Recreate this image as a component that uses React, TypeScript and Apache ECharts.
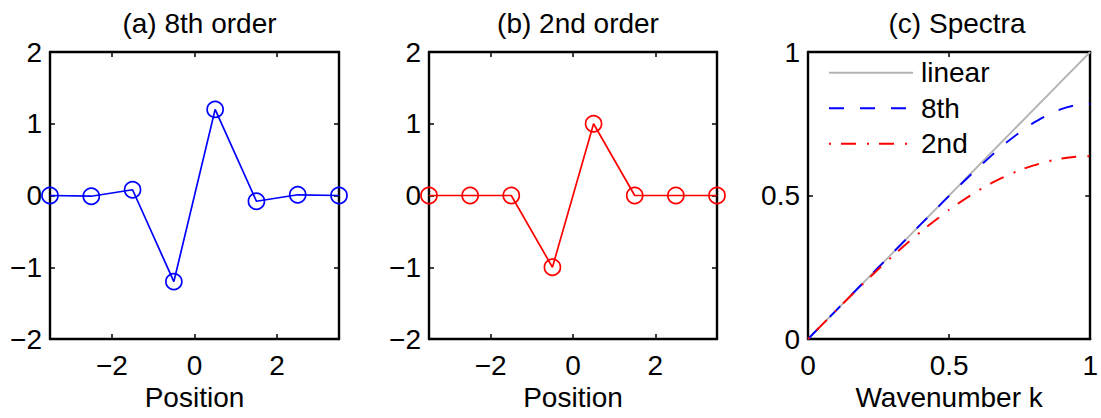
import React, { useEffect, useRef } from "react";
import * as echarts from "echarts";

// Stencil weights at staggered grid positions
const positions = [-3.5, -2.5, -1.5, -0.5, 0.5, 1.5, 2.5, 3.5];
const stencil8th = [0.0, -0.01, 0.08, -1.2, 1.2, -0.08, 0.01, 0.0];
const stencil2nd = [0, 0, 0, -1, 1, 0, 0, 0];

// Modified wavenumber spectra
const wavenumber = [
  0, 0.05, 0.1, 0.15, 0.2, 0.25, 0.3, 0.35, 0.4, 0.45, 0.5, 0.55, 0.6, 0.65, 0.7,
  0.75, 0.8, 0.85, 0.9, 0.95, 1,
];
const spectrumLinear = [
  0, 0.05, 0.1, 0.15, 0.2, 0.25, 0.3, 0.35, 0.4, 0.45, 0.5, 0.55, 0.6, 0.65, 0.7,
  0.75, 0.8, 0.85, 0.9, 0.95, 1,
];
const spectrum8th = [
  0, 0.05, 0.1, 0.15, 0.2, 0.25, 0.3, 0.35, 0.4, 0.449, 0.499, 0.547, 0.594, 0.639,
  0.682, 0.72, 0.754, 0.781, 0.802, 0.815, 0.819,
];
const spectrum2nd = [
  0, 0.05, 0.1, 0.149, 0.197, 0.244, 0.289, 0.333, 0.374, 0.413, 0.45, 0.484, 0.515,
  0.543, 0.567, 0.588, 0.605, 0.619, 0.629, 0.635, 0.637,
];

const positionTicks = [-2, 0, 2];
const panelTitles = ["(a) 8th order", "(b) 2nd order", "(c) Spectra"];

const FONT = "'Liberation Sans', Arial, Helvetica, sans-serif";
const FS = 28;

const fmt = (v: number) => String(v).replace("-", "\u2212");

export default function App() {
  const ref = useRef<HTMLDivElement>(null);

  useEffect(() => {
    if (!ref.current) return;
    const chart = echarts.init(ref.current, null, { renderer: "svg" });

    const grids = [
      { left: 50, top: 52, width: 289, height: 287 },
      { left: 429, top: 52, width: 288, height: 287 },
      { left: 808, top: 52, width: 288, height: 287 },
    ];

    const axisLine = { show: true, onZero: false, lineStyle: { color: "#000", width: 2.4 } };
    const labelStyle = { color: "#000", fontSize: FS, fontFamily: FONT };

    const xAxes: any[] = [];
    const yAxes: any[] = [];

    grids.forEach((_, i) => {
      const isSpectra = i === 2;
      const xRange = isSpectra
        ? { min: 0, max: 1, interval: 0.5 }
        : { min: -3.5, max: 3.5 };
      const yRange = isSpectra
        ? { min: 0, max: 1, interval: 0.5 }
        : { min: -2, max: 2, interval: 1 };
      const xTick = isSpectra
        ? { show: true, inside: true, length: 5, lineStyle: { color: "#000", width: 1.5 } }
        : {
            show: true,
            inside: true,
            length: 5,
            customValues: positionTicks,
            lineStyle: { color: "#000", width: 1.5 },
          };
      const yTick = { show: true, inside: true, length: 5, lineStyle: { color: "#000", width: 1.5 } };

      xAxes.push({
        type: "value",
        gridIndex: i,
        position: "bottom",
        ...xRange,
        name: isSpectra ? "Wavenumber k" : "Position",
        nameLocation: "middle",
        nameGap: 44,
        nameTextStyle: labelStyle,
        axisLine,
        axisTick: xTick,
        splitLine: { show: false },
        axisLabel: isSpectra
          ? { ...labelStyle, margin: 12, formatter: fmt }
          : { ...labelStyle, margin: 12, customValues: positionTicks, formatter: fmt },
      });
      xAxes.push({
        type: "value",
        gridIndex: i,
        position: "top",
        ...xRange,
        axisLine,
        axisTick: xTick,
        splitLine: { show: false },
        axisLabel: { show: false },
      });
      yAxes.push({
        type: "value",
        gridIndex: i,
        position: "left",
        ...yRange,
        axisLine,
        axisTick: yTick,
        splitLine: { show: false },
        axisLabel: { ...labelStyle, margin: 8, formatter: fmt },
      });
      yAxes.push({
        type: "value",
        gridIndex: i,
        position: "right",
        ...yRange,
        axisLine,
        axisTick: yTick,
        splitLine: { show: false },
        axisLabel: { show: false },
      });
    });

    const stencilSeries = (name: string, values: number[], color: string, idx: number) => ({
      name,
      type: "line",
      xAxisIndex: idx * 2,
      yAxisIndex: idx * 2,
      data: positions.map((p, j) => [p, values[j]]),
      symbol: "circle",
      symbolSize: 16,
      itemStyle: { color: "rgba(0,0,0,0)", borderColor: color, borderWidth: 1.7 },
      lineStyle: { color, width: 1.7 },
      clip: false,
      z: 3,
    });

    const spectrumSeries = (name: string, values: number[], color: string, type: any) => ({
      name,
      type: "line",
      xAxisIndex: 4,
      yAxisIndex: 4,
      data: wavenumber.map((k, j) => [k, values[j]]),
      symbol: "none",
      smooth: 0.2,
      lineStyle: { color, width: 1.9, type },
      itemStyle: { color },
      z: 3,
    });

    chart.setOption({
      animation: false,
      backgroundColor: "#fff",
      title: grids.map((g, i) => ({
        text: panelTitles[i],
        left: g.left + g.width / 2,
        top: 4,
        textAlign: "center",
        textStyle: { color: "#000", fontSize: FS, fontWeight: "normal", fontFamily: FONT },
      })),
      grid: grids,
      xAxis: xAxes,
      yAxis: yAxes,
      legend: {
        data: ["linear", "8th", "2nd"],
        orient: "vertical",
        left: 828,
        top: 55,
        itemWidth: 84,
        itemHeight: 14,
        itemGap: 0,
        padding: 0,
        itemStyle: { opacity: 0 },
        textStyle: {
          color: "#000",
          fontSize: FS,
          fontFamily: FONT,
          lineHeight: 35.5,
          padding: [0, 0, 0, 3],
        },
        selectedMode: false,
      },
      series: [
        stencilSeries("a8", stencil8th, "#0000ff", 0),
        stencilSeries("b2", stencil2nd, "#ff0000", 1),
        spectrumSeries("linear", spectrumLinear, "#b3b3b3", "solid"),
        spectrumSeries("8th", spectrum8th, "#0000ff", [15, 16]),
        spectrumSeries("2nd", spectrum2nd, "#ff0000", [2, 10, 15, 11]),
      ],
    });

    return () => chart.dispose();
  }, []);

  return (
    <div
      ref={ref}
      style={{ position: "absolute", left: 0, top: 0, width: 1101, height: 418 }}
    />
  );
}
